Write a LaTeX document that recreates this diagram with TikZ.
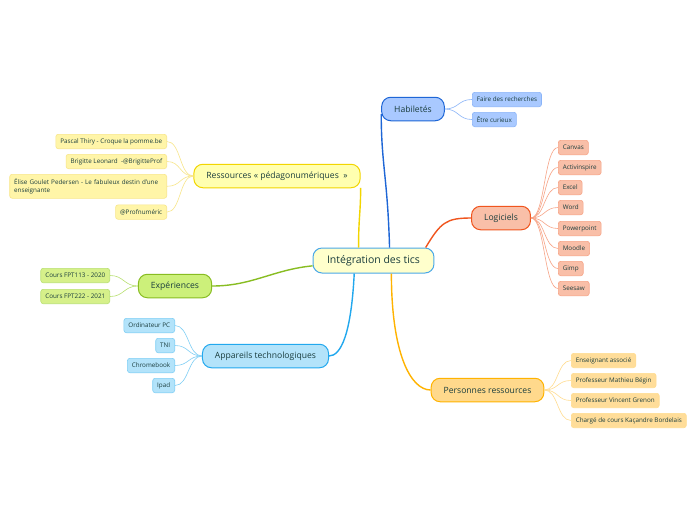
\documentclass[tikz,border=0pt]{standalone}
\usepackage{fontspec}
\setmainfont{Open Sans}
\usetikzlibrary{positioning}

\definecolor{ink}{HTML}{1A3D3D}
\definecolor{rootfill}{HTML}{FFFFCC}
\definecolor{rootline}{HTML}{4AA8E8}
\definecolor{habfill}{HTML}{A9C9FF}
\definecolor{habline}{HTML}{1E66D6}
\definecolor{habtwig}{HTML}{8AB4F8}
\definecolor{resfill}{HTML}{FFFFB0}
\definecolor{resline}{HTML}{F2D500}
\definecolor{resleaf}{HTML}{FFF5A8}
\definecolor{restwig}{HTML}{F8E68A}
\definecolor{logfill}{HTML}{F9BFA8}
\definecolor{logline}{HTML}{F0551E}
\definecolor{logtwig}{HTML}{F7A487}
\definecolor{expfill}{HTML}{CCF07A}
\definecolor{expline}{HTML}{88BD22}
\definecolor{expleaf}{HTML}{D6F08A}
\definecolor{exptwig}{HTML}{B8E070}
\definecolor{appfill}{HTML}{B3E3FA}
\definecolor{appline}{HTML}{22A8EE}
\definecolor{apptwig}{HTML}{80CFF5}
\definecolor{perfill}{HTML}{FFD98C}
\definecolor{perline}{HTML}{FFB300}
\definecolor{perleaf}{HTML}{FFDD99}
\definecolor{pertwig}{HTML}{FFDC8F}

\begin{document}
\begin{tikzpicture}[x=1pt,y=-1pt,
    every node/.style={text=ink},
    root node/.style={draw=rootline,fill=rootfill,line width=1pt,rounded corners=9pt,
        inner xsep=14pt,minimum height=25pt,font=\fontsize{10.5}{12}\selectfont},
    main node/.style={line width=1pt,rounded corners=9pt,inner xsep=12.5pt,
        minimum height=23.5pt,font=\fontsize{8.6}{10}\selectfont},
    leaf node/.style={line width=0.6pt,rounded corners=2.5pt,inner xsep=4.5pt,
        minimum height=14.4pt,font=\fontsize{6.3}{7.5}\selectfont},
    hab leaf/.style={leaf node,draw=habtwig,fill=habfill},
    res leaf/.style={leaf node,draw=restwig,fill=resleaf},
    log leaf/.style={leaf node,draw=logtwig,fill=logfill},
    exp leaf/.style={leaf node,draw=exptwig,fill=expleaf},
    app leaf/.style={leaf node,draw=apptwig,fill=appfill},
    per leaf/.style={leaf node,draw=pertwig,fill=perleaf},
    branch/.style={line width=1.4pt},
    twig right/.style={line width=0.6pt,
        to path={.. controls +(14,0) and +(-14,0) .. (\tikztotarget)}},
    twig left/.style={line width=0.6pt,
        to path={.. controls +(-14,0) and +(14,0) .. (\tikztotarget)}}]

        \fill[white] (0,0) rectangle (696,520);
        \useasboundingbox (0,0) rectangle (696,520);

        % Centre and main topics
        \node[root node] (c) at (373.5,260.5) {Intégration des tics};
        \node[main node,draw=habline,fill=habfill] (hab) at (413,109) {Habiletés};
        \node[main node,draw=resline,fill=resfill] (res) at (277,176) {Ressources « pédagonumériques~~»};
        \node[main node,draw=logline,fill=logfill] (log) at (501,218) {Logiciels};
        \node[main node,draw=expline,fill=expfill] (exp) at (175,286) {Expériences};
        \node[main node,draw=appline,fill=appfill] (app) at (265.5,356) {Appareils technologiques};
        \node[main node,draw=perline,fill=perfill] (per) at (487.5,390) {Personnes ressources};

        % Habiletés
        \node[hab leaf,anchor=north west] (far) at (472,92) {Faire des recherches};
        \node[hab leaf] (cur) [below right=5pt and 0pt of far.south west] {Être curieux};

        % Ressources
        \node[res leaf,anchor=north east] (pas) at (167,134) {Pascal Thiry - Croque la pomme.be};
        \node[res leaf] (bri) [below left=5pt and 0pt of pas.south east] {Brigitte Leonard~ -@BrigitteProf};
        \node[res leaf,text width=148pt,align=left,minimum height=24pt]
            (eli) [below left=5pt and 0pt of bri.south east]
            {Élise Goulet Pedersen - Le fabuleux destin d'une enseignante};
        \node[res leaf] (pro) [below left=6pt and 0pt of eli.south east] {@Profnuméric};

        % Logiciels
        \node[log leaf,anchor=north west] (can) at (558,140) {Canvas};
        \node[log leaf] (act) [below right=5pt and 0pt of can.south west] {Activinspire};
        \node[log leaf] (exc) [below right=5pt and 0pt of act.south west] {Excel};
        \node[log leaf] (wor) [below right=5pt and 0pt of exc.south west] {Word};
        \node[log leaf] (pow) [below right=6pt and 0pt of wor.south west] {Powerpoint};
        \node[log leaf] (moo) [below right=5pt and 0pt of pow.south west] {Moodle};
        \node[log leaf] (gim) [below right=5pt and 0pt of moo.south west] {Gimp};
        \node[log leaf] (see) [below right=5pt and 0pt of gim.south west] {Seesaw};

        % Expériences
        \node[exp leaf,anchor=north east] (fpa) at (110,268) {Cours FPT113 - 2020};
        \node[exp leaf] (fpb) [below left=6pt and 0pt of fpa.south east] {Cours FPT222 - 2021};

        % Appareils technologiques
        \node[app leaf,anchor=north east] (ord) at (175,318) {Ordinateur PC};
        \node[app leaf] (tni) [below left=5pt and 0pt of ord.south east] {TNI};
        \node[app leaf] (chr) [below left=5pt and 0pt of tni.south east] {Chromebook};
        \node[app leaf] (ipa) [below left=5pt and 0pt of chr.south east] {Ipad};

        % Personnes ressources
        \node[per leaf,anchor=north west] (ens) at (571,353) {Enseignant associé};
        \node[per leaf] (beg) [below right=5pt and 0pt of ens.south west] {Professeur Mathieu Bégin};
        \node[per leaf] (gre) [below right=5pt and 0pt of beg.south west] {Professeur Vincent Grenon};
        \node[per leaf] (bor) [below right=5pt and 0pt of gre.south west] {Chargé de cours Kaçandre Bordelais};

        % Branches from the centre
        \draw[branch,habline] (c.39) .. controls +(-2,-70) and +(0,50) .. (hab.189);
        \draw[branch,resline] (c.139) .. controls +(0,-30) and +(0,25) .. (res.-8);
        \draw[branch,logline] (c.14) .. controls +(15,-25) and +(-25,0) .. (log.west);
        \draw[branch,expline] (c.185) .. controls +(-40,4) and +(40,0) .. (exp.east);
        \draw[branch,appline] (c.214) .. controls +(-3,60) and +(12,0) .. (app.east);
        \draw[branch,perline] (c.-36) .. controls +(0,80) and +(-20,0) .. (per.west);

        % Twigs to the leaves
        \path[twig right,draw=habtwig]
            (hab.east) edge (far.west)
            (hab.east) edge (cur.west);
        \path[twig left,draw=restwig]
            (res.west) edge (pas.east)
            (res.west) edge (bri.east)
            (res.west) edge (eli.east)
            (res.west) edge (pro.east);
        \path[twig right,draw=logtwig]
            (log.east) edge (can.west)
            (log.east) edge (act.west)
            (log.east) edge (exc.west)
            (log.east) edge (wor.west)
            (log.east) edge (pow.west)
            (log.east) edge (moo.west)
            (log.east) edge (gim.west)
            (log.east) edge (see.west);
        \path[twig left,draw=exptwig]
            (exp.west) edge (fpa.east)
            (exp.west) edge (fpb.east);
        \path[twig left,draw=apptwig]
            (app.west) edge (ord.east)
            (app.west) edge (tni.east)
            (app.west) edge (chr.east)
            (app.west) edge (ipa.east);
        \path[twig right,draw=pertwig]
            (per.east) edge (ens.west)
            (per.east) edge (beg.west)
            (per.east) edge (gre.west)
            (per.east) edge (bor.west);

        \end{tikzpicture}
\end{document}
